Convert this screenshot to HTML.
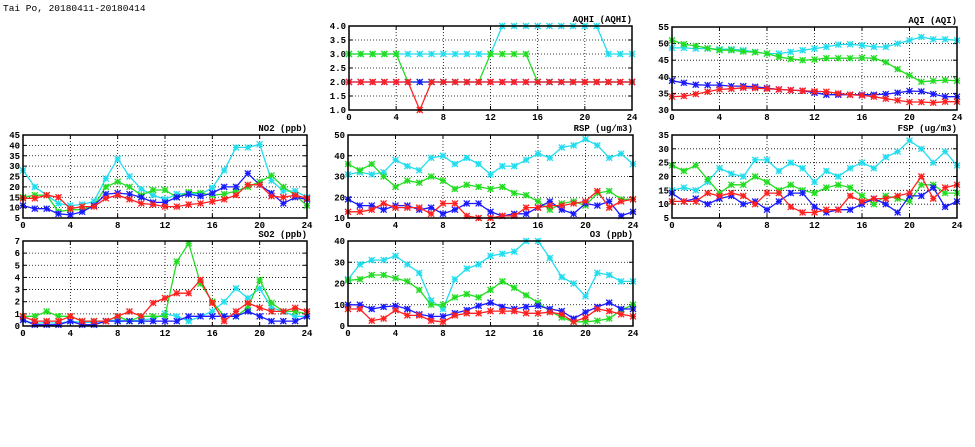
<!DOCTYPE html>
<html><head><meta charset="utf-8"><style>
html,body{margin:0;padding:0;background:#fff;}
svg{display:block;}
text{font-family:"Liberation Mono",monospace;fill:#000;}
</style></head><body>
<svg id="chart" width="975" height="447" xmlns="http://www.w3.org/2000/svg">
<text x="3" y="11" font-size="9.5">Tai Po, 20180411-20180414</text>
</svg>
<script>
const hours = [0,1,2,3,4,5,6,7,8,9,10,11,12,13,14,15,16,17,18,19,20,21,22,23,24];
const xTicks = [0,4,8,12,16,20,24];
const seriesNames = ['cyan-series','green-series','blue-series','red-series'];
const seriesColors = ['#22ddee','#22dd22','#1a1aff','#ff2020'];

const aqhiCyan = [3,3,3,3,3,3,3,3,3,3,3,3,3,4,4,4,4,4,4,4,4,4,3,3,3];
const aqhiGreen = [3,3,3,3,3,2,2,2,2,2,2,2,3,3,3,3,2,2,2,2,2,2,2,2,2];
const aqhiBlue = [2,2,2,2,2,2,2,2,2,2,2,2,2,2,2,2,2,2,2,2,2,2,2,2,2];
const aqhiRed = [2,2,2,2,2,2,1,2,2,2,2,2,2,2,2,2,2,2,2,2,2,2,2,2,2];
const aqhiTicks = [1.0,1.5,2.0,2.5,3.0,3.5,4.0];

const aqiCyan = [48.7,48.7,48.5,48.5,48.3,48.3,48,47.5,47,47,47.5,48,48.5,49,49.7,49.8,49.5,49,49,50,51,52,51.3,51.3,51];
const aqiGreen = [51,49.8,49.3,48.6,48,48,47.6,47.4,47,46,45.4,45,45.2,45.6,45.6,45.6,45.7,45.6,44.4,42.3,40.4,38.5,38.8,39,38.8];
const aqiBlue = [38.8,38.2,37.6,37.5,37.5,37.2,37.2,37,36.6,36.2,36,35.8,35.2,34.6,34.6,34.6,34.6,34.6,34.8,35.2,35.7,35.6,34.8,34,34];
const aqiRed = [34,34.2,34.8,35.5,36.2,36.4,36.7,36.6,36.4,36.2,36,35.8,35.6,35.5,35,34.6,34.4,34,33.4,32.9,32.4,32.4,32.2,32.5,32.5];
const aqiTicks = [30,35,40,45,50,55];

const no2Cyan = [28,20,16,12,11,11.5,13,24,33.5,25,19,16,14,16.5,17,16.5,19.5,28,39,39,40.5,23,18,18,15];
const no2Green = [15,16,16,8,9,9,11,20,22.5,20,16,18.5,18.5,15,17.5,17,16,16.5,18,20,22.5,25.5,20,16,11];
const no2Blue = [11,9.5,9.5,7,6.5,8,11,16.5,17,16.5,15,12.5,12.5,15,16.5,15.5,17,20,20,26.5,21,17,12,15,14];
const no2Red = [14.5,14.5,16,15,9.5,10.5,10.5,14.5,16,14,12,11.5,10.5,10.5,11.5,12,13,14,16,21,21,15.5,15,16,14.5];
const no2Ticks = [5,10,15,20,25,30,35,40,45];

const rspCyan = [31,32,31,32,38,35,33,39,40,36,39,36,31,35,35,38,41,39,44,45,48,45,39,41,36];
const rspGreen = [36,33,36,30,25,28,27,30,28,24,26,25,24,25,22,21,18,14,17,18,16,22,23,19,19];
const rspBlue = [19,16,16,14,16,16,14,15,12,14,17,17,13,11,12,12,15,18,14,12,17,16,18,11,13];
const rspRed = [13,13,14,17,15,15,15,12,17,17,11,10,10,11,11,15,15,16,16,17,18,23,15,18,19];
const rspTicks = [10,20,30,40,50];

const fspCyan = [15,16,15,18,23,21,20,26,26,22,25,23,18,22,20,23,25,23,27,29,33,30,25,29,24];
const fspGreen = [24,22,24,19,14,17,17,20,18,15,17,15,14,16,17,16,13,10,13,12,11,17,17,14,14];
const fspBlue = [14,11,12,10,12,13,10,11,8,11,14,14,9,7,8,8,10,12,10,7,13,13,16,9,11];
const fspRed = [11,11,11,14,13,14,13,10,14,14,9,7,7,8,8,13,11,12,12,13,14,20,12,16,17];
const fspTicks = [5,10,15,20,25,30,35];

const so2Cyan = [0.5,0.2,0.3,0.2,0.4,0.3,0.3,0.4,0.5,0.4,0.5,0.6,1,0.8,0.4,0.8,1.2,2,3.1,2.3,3.1,1.5,1.2,0.8,0.8];
const so2Green = [0.8,0.8,1.2,0.8,0.8,0.4,0.4,0.4,0.8,0.4,0.8,0.8,0.8,5.3,6.8,3.5,2,0.8,0.8,1.5,3.8,1.9,1.2,1.2,1];
const so2Blue = [0.5,0.1,0.1,0.1,0.4,0.1,0.1,0.4,0.4,0.4,0.4,0.4,0.4,0.4,0.8,0.8,0.8,0.8,0.8,1.2,0.8,0.4,0.4,0.4,0.8];
const so2Red = [0.8,0.4,0.4,0.4,0.8,0.4,0.4,0.4,0.8,1.2,0.8,1.9,2.3,2.7,2.7,3.8,1.9,0.4,1.2,1.9,1.5,1.2,1.2,1.5,1.2];
const so2Ticks = [0,1,2,3,4,5,6,7];

const o3Cyan = [22,29,31,31,33,29,25,12,8,22,27,29,33,34,35,40,40,32,23,20,14,25,24,21,21];
const o3Green = [21.5,22,24,24,22.5,21,17,10,10,13.5,15,13.5,17,21,18,14.5,11,7,4,2,2,2.5,3.5,7.5,10];
const o3Blue = [10,10,8,9,9.5,8,5.5,4.5,4.5,6,7.5,9.5,11,9,8,9,9.5,8,7,3.5,6.5,9,11,8,8];
const o3Red = [8,8,2.5,3.5,7.5,5,5,2.5,2,5,6,6,7,7,7,6,6,6.5,5.5,2,4,8,7,5.5,4.5];
const o3Ticks = [0,10,20,30,40];

const panels = [
 {name:'aqhi',title:'AQHI (AQHI)',l:349,r:632,t:26,b:110,ticks:aqhiTicks,dec:1,series:[aqhiCyan,aqhiGreen,aqhiBlue,aqhiRed]},
 {name:'aqi',title:'AQI (AQI)',l:672,r:957,t:27,b:110,ticks:aqiTicks,dec:0,series:[aqiCyan,aqiGreen,aqiBlue,aqiRed]},
 {name:'no2',title:'NO2 (ppb)',l:23,r:307,t:135,b:218,ticks:no2Ticks,dec:0,series:[no2Cyan,no2Green,no2Blue,no2Red]},
 {name:'rsp',title:'RSP (ug/m3)',l:348,r:633,t:135,b:218,ticks:rspTicks,dec:0,series:[rspCyan,rspGreen,rspBlue,rspRed]},
 {name:'fsp',title:'FSP (ug/m3)',l:672,r:957,t:135,b:218,ticks:fspTicks,dec:0,series:[fspCyan,fspGreen,fspBlue,fspRed]},
 {name:'so2',title:'SO2 (ppb)',l:23,r:307,t:241,b:326,ticks:so2Ticks,dec:0,series:[so2Cyan,so2Green,so2Blue,so2Red]},
 {name:'o3',title:'O3 (ppb)',l:348,r:633,t:241,b:326,ticks:o3Ticks,dec:0,series:[o3Cyan,o3Green,o3Blue,o3Red]}
];

const svg = document.getElementById('chart');
const NS = 'http://www.w3.org/2000/svg';
function mk(tag, attrs, parent){
  const el = document.createElementNS(NS, tag);
  for (const k in attrs) el.setAttribute(k, attrs[k]);
  parent.appendChild(el);
  return el;
}

panels.forEach(p => {
  const g = mk('g', {}, svg);
  
  
  const ymin = p.ticks[0], ymax = p.ticks[p.ticks.length-1];
  const xS = v => p.l + (v - 0) / 24 * (p.r - p.l);
  const yS = v => p.b - (v - ymin) / (ymax - ymin) * (p.b - p.t);

  // grid
  xTicks.forEach(v => {
    if (v === 0 || v === 24) return;
    const ln = mk('line', {x1:xS(v),x2:xS(v),y1:p.t,y2:p.b,stroke:'#000','stroke-width':0.8,'stroke-dasharray':'1,2'}, g);
    
    
  });
  p.ticks.forEach(v => {
    if (v === ymin || v === ymax) return;
    const ln = mk('line', {x1:p.l,x2:p.r,y1:yS(v),y2:yS(v),stroke:'#000','stroke-width':0.8,'stroke-dasharray':'1,2'}, g);
    
    
  });
  // ticks and labels
  xTicks.forEach(v => {
    mk('line', {x1:xS(v),x2:xS(v),y1:p.b,y2:p.b-4,stroke:'#000','stroke-width':1}, g);
    mk('line', {x1:xS(v),x2:xS(v),y1:p.t,y2:p.t+4,stroke:'#000','stroke-width':1}, g);
    const t = mk('text', {x:xS(v),y:p.b+10,'font-size':9,'font-weight':'bold','text-anchor':'middle'}, g);
    t.textContent = v;
    
    
  });
  p.ticks.forEach(v => {
    mk('line', {x1:p.l,x2:p.l+4,y1:yS(v),y2:yS(v),stroke:'#000','stroke-width':1}, g);
    mk('line', {x1:p.r,x2:p.r-4,y1:yS(v),y2:yS(v),stroke:'#000','stroke-width':1}, g);
    const t = mk('text', {x:p.l-3,y:yS(v)+3,'font-size':9,'font-weight':'bold','text-anchor':'end'}, g);
    t.textContent = v.toFixed(p.dec);
    
    
  });
  // series
  p.series.forEach((vals, si) => {
    const sg = mk('g', {}, g);
    
    
    const pts = vals.map((v,i) => xS(hours[i]).toFixed(1) + ',' + yS(v).toFixed(1)).join(' ');
    const pl = mk('polyline', {points:pts,fill:'none',stroke:seriesColors[si],'stroke-width':1.3}, sg);
    
    
    vals.forEach((v,i) => {
      const cx = xS(hours[i]), cy = yS(v), s = 3;
      const m = mk('path', {d:`M${cx-s},${cy-s}L${cx+s},${cy+s}M${cx-s},${cy+s}L${cx+s},${cy-s}M${cx},${cy-s}L${cx},${cy+s}M${cx-s},${cy}L${cx+s},${cy}`,stroke:seriesColors[si],'stroke-width':1.3,fill:'none'}, sg);
      
      
    });
  });
  // frame
  const fr = mk('rect', {x:p.l,y:p.t,width:p.r-p.l,height:p.b-p.t,fill:'none',stroke:'#000','stroke-width':1.5}, g);
  
  
  const tt = mk('text', {x:p.r,y:p.t-4,'font-size':9,'font-weight':'bold','text-anchor':'end'}, g);
  tt.textContent = p.title;
  
  
});
</script>
</body></html>
